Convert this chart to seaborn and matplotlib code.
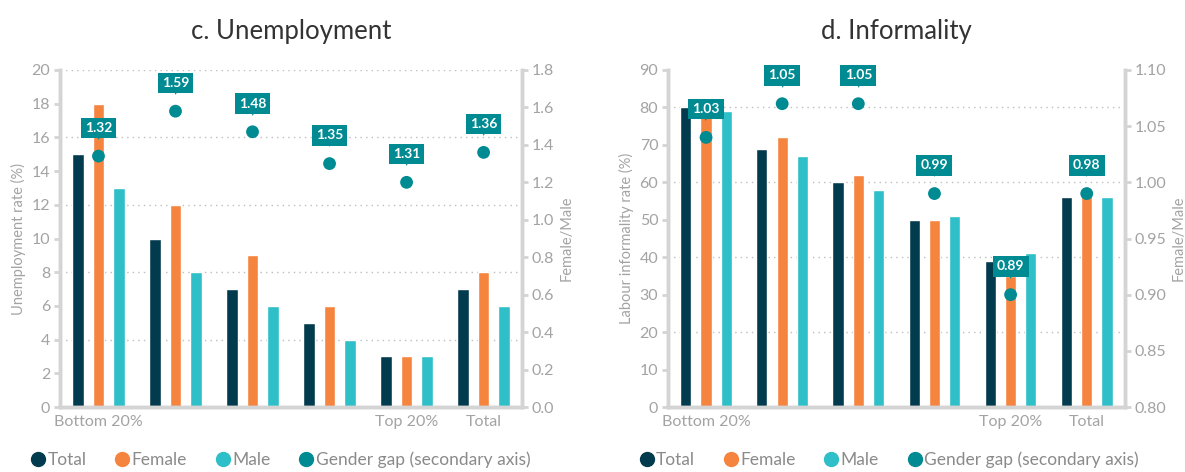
import numpy as np
import pandas as pd
import seaborn as sns
import matplotlib.pyplot as plt
from matplotlib.lines import Line2D

# Data
groups = ["Q1", "Q2", "Q3", "Q4", "Q5", "Total"]
group_labels = ["Bottom 20%", "", "", "", "Top 20%", "Total"]
series = ["Total", "Female", "Male"]

unemp_total = [15, 10, 7, 5, 3, 7]
unemp_female = [18, 12, 9, 6, 3, 8]
unemp_male = [13, 8, 6, 4, 3, 6]
unemp_gap = [1.34, 1.58, 1.47, 1.30, 1.20, 1.36]
unemp_gap_labels = ["1.32", "1.59", "1.48", "1.35", "1.31", "1.36"]

inf_total = [80, 69, 60, 50, 39, 56]
inf_female = [82, 72, 62, 50, 35, 57]
inf_male = [79, 67, 58, 51, 41, 56]
inf_gap = [1.04, 1.07, 1.07, 0.99, 0.90, 0.99]
inf_gap_labels = ["1.03", "1.05", "1.05", "0.99", "0.89", "0.98"]

colors = {"Total": "#023b4d", "Female": "#f5843f", "Male": "#2fbfc8"}
gap_color = "#008b92"
grey = "#a3a3a3"
spine_grey = "#d4d4d4"

sns.set_style("white")
plt.rcParams["font.family"] = ["Lato", "DejaVu Sans"]


def long_frame(total, female, male):
    rows = []
    for name, vals in zip(series, [total, female, male]):
        for g, v in zip(groups, vals):
            rows.append({"group": g, "series": name, "value": v})
    return pd.DataFrame(rows)


def draw_panel(fig, rect, title, df, gap, gap_labels, ylim, yticks, grid_vals,
               ylim2, yticks2, fmt2, ylabel):
    ax = fig.add_axes(rect)
    sns.barplot(data=df, x="group", y="value", hue="series", order=groups,
                hue_order=series, palette=colors, width=0.8, gap=0.45,
                saturation=1, ax=ax, legend=False)
    ax.set_xlim(-0.5, len(groups) - 0.5)
    ax.set_ylim(*ylim)
    ax.set_yticks(yticks)
    for g in grid_vals:
        ax.axhline(g, color="#bdbdbd", lw=1, ls=(0, (1, 3)), zorder=0)
    ax.set_xticks(range(len(groups)))
    ax.set_xticklabels(group_labels)
    ax.set_xticks(np.arange(0.5, len(groups) - 0.5, 1), minor=True)
    ax.tick_params(axis="x", which="major", length=0, pad=6, labelsize=11.5, labelcolor=grey)
    ax.tick_params(axis="x", which="minor", length=6, width=2, color=spine_grey)
    ax.tick_params(axis="y", length=4, width=2, color=spine_grey, labelsize=11.5,
                   labelcolor=grey, pad=3)
    ax.set_xlabel("")
    ax.set_ylabel(ylabel, color=grey, fontsize=10.5, labelpad=4)
    for s in ["left", "bottom", "right"]:
        ax.spines[s].set_color(spine_grey)
        ax.spines[s].set_linewidth(2.5)
    ax.spines["top"].set_visible(False)
    ax.set_title(title, fontsize=18.5, color="#333333", pad=22)

    ax2 = ax.twinx()
    sns.scatterplot(x=groups, y=gap, color=gap_color, s=85, edgecolor="none",
                    ax=ax2, zorder=5)
    ax2.set_xlim(-0.5, len(groups) - 0.5)
    ax2.set_ylim(*ylim2)
    ax2.set_yticks(yticks2)
    ax2.set_yticklabels([fmt2.format(t) for t in yticks2])
    ax2.tick_params(axis="y", length=4, width=2, color=spine_grey, labelsize=11.5,
                    labelcolor=grey, pad=3)
    ax2.set_ylabel("Female/Male", color=grey, fontsize=10.5, labelpad=4)
    for s in ["left", "bottom", "right"]:
        ax2.spines[s].set_color(spine_grey)
        ax2.spines[s].set_linewidth(2.5)
    ax2.spines["top"].set_visible(False)

    for i, (v, lab) in enumerate(zip(gap, gap_labels)):
        ax2.annotate(lab, xy=(i, v), xytext=(0, 16), textcoords="offset points",
                     ha="center", va="bottom", color="white", fontsize=10,
                     fontweight="bold", zorder=6,
                     bbox=dict(boxstyle="square,pad=0.3", fc=gap_color, ec="none"))
        ax2.annotate("\u25BC", xy=(i, v), xytext=(0, 11.5), textcoords="offset points",
                     ha="center", va="bottom", color=gap_color, fontsize=5,
                     family="DejaVu Sans", zorder=6)

    handles = [Line2D([], [], marker="o", ls="none", color=colors[n], markersize=10)
               for n in series]
    handles.append(Line2D([], [], marker="o", ls="none", color=gap_color, markersize=10))
    names = series + ["Gender gap (secondary axis)"]
    leg = ax.legend(handles, names, loc="upper left", bbox_to_anchor=(-0.1, -0.085),
                    ncol=4, frameon=False, fontsize=12.5, handletextpad=0.05,
                    columnspacing=1.55, handlelength=1.0)
    for t in leg.get_texts():
        t.set_color("#8a8a8a")
    return ax, ax2


fig = plt.figure(figsize=(11.85, 4.72), dpi=100)

draw_panel(fig, [0.0506, 0.1377, 0.390, 0.714], "c. Unemployment",
           long_frame(unemp_total, unemp_female, unemp_male),
           unemp_gap, unemp_gap_labels,
           (0, 20), range(0, 21, 2), [4, 8, 12, 16, 20],
           (0, 1.8), np.arange(0, 1.81, 0.2), "{:.1f}", "Unemployment rate (%)")

draw_panel(fig, [0.5637, 0.1377, 0.3855, 0.714], "d. Informality",
           long_frame(inf_total, inf_female, inf_male),
           inf_gap, inf_gap_labels,
           (0, 90), range(0, 91, 10), [20, 40, 60, 80],
           (0.8, 1.1), np.arange(0.8, 1.101, 0.05), "{:.2f}", "Labour informality rate (%)")

fig.savefig("out.png", dpi=100)
